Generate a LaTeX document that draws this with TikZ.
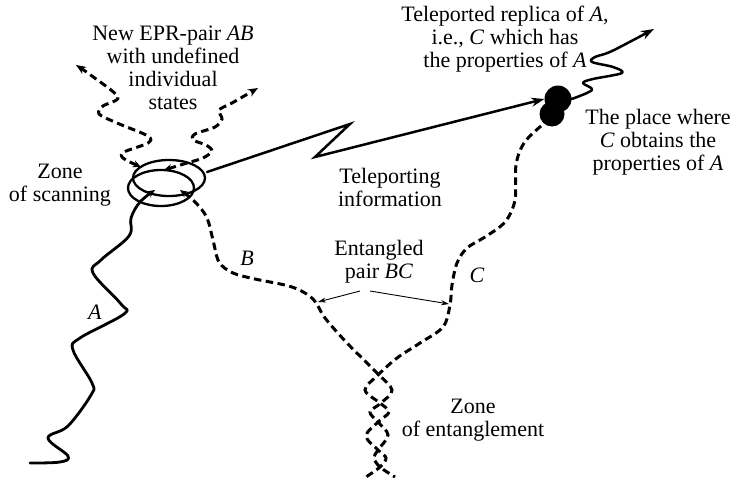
\documentclass[tikz,border=0pt]{standalone}
\usepackage{fontspec}
\setmainfont{Liberation Serif}
\usetikzlibrary{arrows.meta}
\tikzset{
  lbl/.style={font=\fontsize{22}{23}\selectfont, align=center, inner sep=0pt},
  solidwave/.style={line width=2.8pt, line cap=round, line join=round},
  dashwave/.style={line width=3pt, dash pattern=on 7.5pt off 4.5pt},
  ring/.style={line width=2.3pt},
  bigtip/.style={-{Stealth[length=13pt,width=9pt]}},
  smalltip/.style={-{Stealth[length=8pt,width=7pt]}},
  thinarrow/.style={line width=0.9pt, -{Stealth[length=8pt,width=5pt]}},
  blob/.style={circle, fill=black, inner sep=0pt},
}
\begin{document}
\begin{tikzpicture}[x=1pt,y=-1pt]
\useasboundingbox (0,0) rectangle (734,477);

% texts
\node[lbl] (epr) at (173,68) {New EPR-pair \textit{AB}\\with undefined\\individual\\states};
\node[lbl] (scan) at (60,185) {Zone\\of scanning};
\node[lbl] (repl) at (505,39) {Teleported replica of \textit{A},\\i.e., \textit{C} which has\\the properties of \textit{A}};
\node[lbl] (place) at (658,142) {The place where\\\textit{C} obtains the\\properties of \textit{A}};
\node[lbl] (tinfo) at (390,187) {Teleporting\\information};
\node[lbl] (ent) at (379,262) {Entangled\\pair \textit{BC}};
\node[lbl] (zent) at (473,420) {Zone\\of entanglement};
\node[lbl] (la) at (95,312) {\textit{A}};
\node[lbl] (lb) at (247,258) {\textit{B}};
\node[lbl] (lc) at (477,275) {\textit{C}};

% zone of scanning (two rings)
\draw[ring] (169,178) ellipse [x radius=36, y radius=18];
\draw[ring] (161,188) ellipse [x radius=33, y radius=18];

% place where C obtains properties of A
\node[blob, minimum size=27pt] (d1) at (558,99) {};
\node[blob, minimum size=25pt] (d2) at (552,114) {};

% particle A (solid wave into the ring)
\draw[solidwave, smalltip] plot[smooth, tension=0.6] coordinates {
 (30,463) (60,462) (68,456) (48,438) (68,426) (91,395) (92,383) (73,350)
 (80,338) (124,314) (121,304) (93,273) (101,260) (129,236) (131,218)
 (140,202) (155,190)};

% particle B
\draw[dashwave, {Stealth[length=8pt,width=7pt]}-] plot[smooth, tension=0.55] coordinates {
 (180,190) (196,203) (207,218) (213,240) (219,262) (233,273) (255,279)
 (292,287) (313,299) (325,318) (347,343) (377,373) (392,390) (381,403)
 (370,412) (378,422) (388,435) (378,450) (374,458) (380,467) (395,477)};

% particle C
\draw[dashwave] plot[smooth, tension=0.55] coordinates {
 (541,126) (524,143) (516,165) (515,200) (505,222) (485,237) (467,248)
 (457,263) (452,285) (450,305) (443,327) (420,343) (397,358) (378,375)
 (365,390) (380,403) (389,412) (378,422) (366,436) (378,450) (386,458)
 (380,467) (366,477)};

% new EPR pair AB leaving the ring
\draw[dashwave, {Stealth[length=8pt,width=7pt]}-{Stealth[length=10pt,width=8pt]}] plot[smooth, tension=0.5] coordinates {
 (141,167) (123,158) (124,152) (148,143) (148,136) (117,123) (99,114)
 (103,106) (118,97) (92,76) (76,65)};
\draw[dashwave, {Stealth[length=8pt,width=7pt]}-{Stealth[length=10pt,width=8pt]}] plot[smooth, tension=0.5] coordinates {
 (164,170) (187,163) (203,158) (212,151) (206,145) (193,140) (195,134)
 (215,127) (222,119) (219,110) (232,103) (258,88)};

% teleporting information
\coordinate (tstart) at (207,172);
\coordinate (tz1) at (350,124);
\coordinate (tz2) at (315,157);
\draw[solidwave, line width=2.5pt, bigtip, line join=miter] (tstart) -- (tz1) -- (tz2) -- (d1.west);

% teleported replica leaving
\draw[solidwave, line width=2.5pt, bigtip] plot[smooth, tension=0.55] coordinates {
 (d1.east) (592,90) (583,83) (593,79) (622,73) (613,67) (592,62) (595,57)
 (612,51) (654,29)};

% entangled pair BC pointers
\coordinate (bcl) at (360,291);
\coordinate (bcr) at (370,291);
\coordinate (onb) at (318,302);
\coordinate (onc) at (449,304);
\draw[thinarrow] (bcl) -- (onb);
\draw[thinarrow] (bcr) -- (onc);
\end{tikzpicture}
\end{document}
